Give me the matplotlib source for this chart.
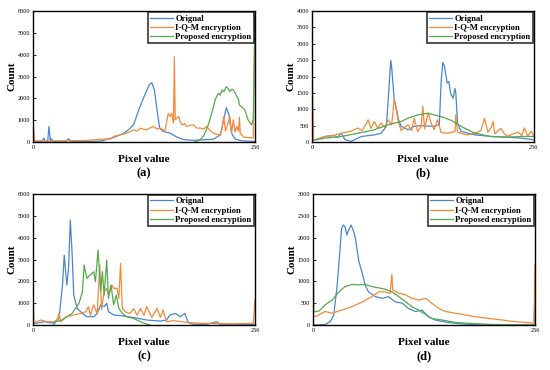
import numpy as np
import matplotlib
matplotlib.use('Agg')
import matplotlib.pyplot as plt

plt.rcParams['font.family'] = ['Liberation Serif', 'DejaVu Serif']

# series colours
c_orig = '#4a86cc'
c_iqm = '#f28a3a'
c_prop = '#55aa4c'

labels = ['Orignal', 'I-Q-M encryption', 'Proposed encryption']

# ---- (a) ----
a_orig_x = [0, 5, 10, 12.6, 14, 17, 18.4, 20, 21, 23, 38, 41, 44, 60, 78, 93, 105, 110, 116, 122, 128, 134, 137, 140, 143, 146, 150, 158, 166, 174, 185, 193, 208, 216, 219, 223, 226, 229, 233, 240, 256]
a_orig_y = [50, 40, 30, 180, 30, 60, 715, 60, 150, 40, 30, 150, 30, 30, 40, 210, 410, 560, 790, 1480, 2080, 2620, 2720, 2390, 1480, 640, 490, 410, 230, 110, 80, 100, 130, 330, 870, 1580, 1250, 410, 140, 60, 30]
a_iqm_x = [0, 2, 20, 40, 60, 70, 80, 90, 93, 100, 108, 112, 116, 120, 124, 128, 131, 135, 139, 143, 147, 150, 152, 154, 156, 158, 160, 162, 163, 164, 166, 168, 170, 172, 175, 177, 181, 185, 189, 193, 197, 200, 204, 208, 212, 216, 218, 220, 222, 225, 227, 229, 231, 233, 235, 237, 238, 239, 243, 250, 254, 256]
a_iqm_y = [870, 50, 40, 60, 70, 100, 130, 150, 260, 330, 410, 480, 560, 500, 640, 580, 560, 650, 715, 600, 640, 560, 490, 900, 1320, 1170, 1320, 870, 3910, 1020, 1100, 1170, 900, 790, 850, 715, 760, 790, 640, 640, 600, 715, 550, 410, 360, 330, 600, 1170, 500, 870, 1170, 410, 1020, 450, 715, 500, 1140, 400, 230, 200, 180, 6000]
a_prop_x = [186, 189, 193, 197, 200, 203, 206, 208, 210, 212, 214, 216, 218, 220, 223, 225, 227, 229, 231, 233, 235, 237, 238, 241, 244, 246, 248, 250, 252, 254, 256]
a_prop_y = [0, 30, 110, 300, 560, 900, 1320, 1600, 1930, 2100, 2240, 2150, 2390, 2300, 2540, 2450, 2310, 2420, 2390, 2250, 2090, 1950, 1700, 1600, 1480, 1250, 1020, 900, 790, 1020, 6000]

# ---- (b) ----
b_orig_x = [0, 8, 15, 25, 30, 34, 38, 45, 57, 72, 80, 86, 88, 91, 92, 95, 97, 100, 103, 111, 118, 126, 141, 147, 149, 151, 153, 156, 158, 160, 163, 165, 166, 168, 172, 188, 207, 226, 241, 256]
b_orig_y = [50, 100, 170, 200, 150, 270, 80, 20, 170, 220, 270, 480, 1290, 2500, 2300, 1290, 1090, 680, 480, 375, 480, 500, 480, 530, 1800, 2430, 2300, 1800, 1850, 1490, 1340, 1640, 1500, 580, 325, 220, 170, 150, 120, 70]
b_iqm_x = [0, 2, 8, 15, 25, 34, 45, 53, 58, 61, 65, 68, 72, 76, 80, 84, 88, 92, 95, 96, 98, 100, 103, 107, 111, 115, 118, 122, 126, 128, 130, 134, 138, 141, 145, 149, 153, 157, 161, 165, 166, 168, 174, 180, 186, 191, 195, 199, 203, 207, 209, 211, 215, 218, 222, 226, 232, 238, 242, 245, 249, 253, 256]
b_iqm_y = [2750, 50, 100, 170, 200, 270, 330, 430, 350, 480, 680, 420, 630, 420, 580, 450, 680, 520, 1290, 1190, 880, 600, 350, 450, 530, 350, 730, 320, 480, 1090, 400, 880, 550, 380, 680, 300, 280, 270, 300, 320, 830, 300, 250, 220, 260, 300, 350, 730, 300, 450, 630, 250, 350, 420, 250, 180, 250, 300, 200, 430, 180, 330, 170]
b_prop_x = [0, 15, 34, 53, 72, 88, 103, 111, 122, 134, 141, 149, 161, 172, 188, 207, 226, 241, 256]
b_prop_y = [50, 120, 170, 270, 375, 530, 630, 730, 830, 880, 830, 780, 660, 480, 270, 170, 150, 170, 170]

# ---- (c) ----
c_orig_x = [0, 13, 24, 30, 34, 36, 37, 39, 41, 43, 45, 47, 51, 57, 62, 70, 74, 78, 82, 85, 87, 93, 101, 116, 131, 147, 154, 158, 164, 170, 175, 179, 185, 200, 212, 216, 231, 256]
c_orig_y = [50, 150, 80, 300, 1830, 3200, 2750, 1830, 2600, 4810, 3360, 1370, 760, 530, 380, 380, 530, 920, 840, 990, 610, 460, 430, 340, 230, 180, 230, 460, 530, 380, 530, 120, 30, 30, 150, 30, 30, 30]
c_iqm_x = [0, 1, 9, 16, 24, 28, 30, 32, 39, 47, 55, 61, 64, 66, 70, 74, 77, 79, 82, 85, 87, 91, 93, 97, 99, 101, 103, 106, 112, 116, 120, 124, 128, 131, 137, 143, 147, 150, 154, 162, 177, 193, 231, 254, 256]
c_iqm_y = [1530, 100, 230, 150, 150, 250, 530, 150, 380, 460, 530, 610, 840, 450, 920, 500, 2750, 700, 1530, 1680, 1370, 1830, 1680, 1680, 1220, 2820, 760, 610, 530, 760, 450, 760, 450, 840, 350, 760, 350, 690, 150, 200, 120, 80, 50, 80, 1200]
c_prop_x = [24, 26, 32, 39, 45, 49, 53, 57, 59, 62, 66, 70, 72, 75, 78, 80, 82, 85, 87, 90, 93, 96, 99, 103, 108, 116, 124, 128, 135]
c_prop_y = [0, 150, 200, 380, 530, 760, 990, 1530, 2750, 2140, 2290, 2440, 1980, 3440, 1530, 2440, 1370, 2980, 1220, 1830, 920, 1370, 760, 530, 380, 300, 150, 80, 0]

# ---- (d) ----
d_orig_x = [0, 14, 20, 24, 28, 31, 33, 35, 37, 39, 42, 44, 47, 49, 53, 57, 60, 64, 72, 80, 87, 95, 103, 110, 118, 126, 133, 141, 157, 172, 187, 255, 256]
d_orig_y = [0, 10, 80, 230, 920, 1680, 2210, 2290, 2250, 2060, 2210, 2290, 2140, 1980, 1450, 1180, 920, 760, 650, 610, 650, 530, 500, 380, 310, 340, 190, 115, 55, 25, 5, 5, 700]
d_iqm_x = [0, 3, 14, 22, 33, 45, 57, 68, 76, 83, 89, 91, 92, 99, 107, 114, 122, 130, 137, 145, 153, 164, 176, 187, 203, 218, 234, 249, 255, 256]
d_iqm_y = [230, 190, 310, 270, 340, 420, 530, 650, 760, 760, 720, 1160, 800, 730, 690, 610, 570, 610, 500, 380, 310, 270, 230, 190, 150, 115, 75, 55, 40, 1400]
d_prop_x = [0, 1, 7, 14, 22, 30, 37, 45, 53, 60, 68, 76, 83, 91, 99, 107, 114, 122, 130, 137, 149, 164, 179, 203, 226, 256]
d_prop_y = [2500, 300, 320, 460, 570, 760, 880, 930, 920, 930, 880, 850, 820, 760, 650, 530, 420, 340, 240, 150, 115, 60, 40, 15, 5, 0]

panels = [
    ('(a)', [0.06, 0.616], 6000, 1000,
     [(a_orig_x, a_orig_y), (a_iqm_x, a_iqm_y), (a_prop_x, a_prop_y)]),
    ('(b)', [0.567, 0.616], 4000, 500,
     [(b_orig_x, b_orig_y), (b_iqm_x, b_iqm_y), (b_prop_x, b_prop_y)]),
    ('(c)', [0.06, 0.1216], 6000, 1000,
     [(c_orig_x, c_orig_y), (c_iqm_x, c_iqm_y), (c_prop_x, c_prop_y)]),
    ('(d)', [0.569, 0.1216], 3000, 500,
     [(d_orig_x, d_orig_y), (d_iqm_x, d_iqm_y), (d_prop_x, d_prop_y)]),
]

fig = plt.figure(figsize=(5.5, 3.7), dpi=100)
for tag, (l, b), ymax, ystep, series in panels:
    ax = fig.add_axes([l, b, 222 / 550, 131 / 370])
    for (xs, ys), col, lab in zip(series, [c_orig, c_iqm, c_prop], labels):
        ax.plot(xs, ys, color=col, lw=0.9, label=lab)
    ax.set_xlim(0, 256)
    ax.set_ylim(0, ymax)
    ax.set_xticks([0, 256])
    ax.set_yticks(np.arange(0, ymax + 1, ystep))
    ax.tick_params(direction='in', length=2, width=0.6, labelsize=4.5, pad=2)
    for s in ax.spines.values():
        s.set_linewidth(1.0)
    ax.set_xlabel('Pixel value', fontsize=8, fontweight='bold', labelpad=4)
    ax.set_ylabel('Count', fontsize=8, fontweight='bold', labelpad=1)
    leg = ax.legend(loc='upper right', prop={'weight': 'bold', 'size': 6.2},
                    frameon=True, fancybox=False, borderpad=0.25, labelspacing=0.15,
                    handlelength=2.6, handletextpad=0.3, borderaxespad=0.15)
    leg.get_frame().set_edgecolor('black')
    leg.get_frame().set_linewidth(1.2)
    fig.text(l + 111 / 550, b - 31 / 370, tag, ha='center', va='center',
             fontsize=9, fontweight='bold')

fig.savefig('out.png', dpi=100)
